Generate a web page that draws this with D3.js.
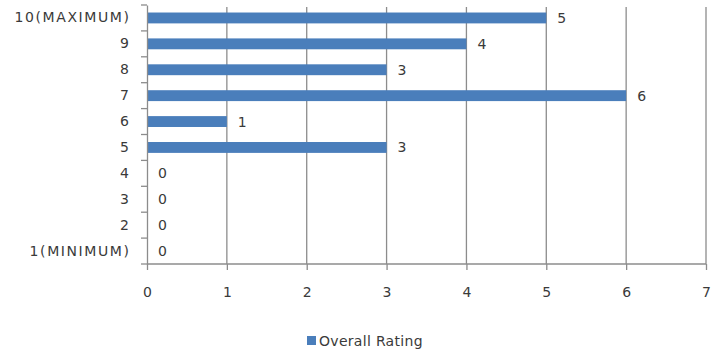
<!DOCTYPE html>
<html><head><meta charset="utf-8">
<script src="https://cdn.jsdelivr.net/npm/d3@7"></script>
<style>
body{margin:0;background:#fff;}
text{font-family:"DejaVu Sans",sans-serif;fill:#3a3a3a;}
</style></head>
<body><svg id="c" width="725" height="356"></svg>
<script>
const categories = ["10(MAXIMUM)","9","8","7","6","5","4","3","2","1(MINIMUM)"];
const values = [5,4,3,6,1,3,0,0,0,0];
const xTicks = [0,1,2,3,4,5,6,7];
const seriesName = "Overall Rating";

const svg = d3.select("#c");
const x = d3.scaleLinear().domain([0,7]).range([147,706]);
const y = d3.scaleBand().domain(categories).range([5,264]).paddingInner(0.58).paddingOuter(0.29);
const color = "#4A7EBB";
const grid = "#8c8c8c";

// gridlines
svg.append("g").selectAll("line").data(xTicks.slice(1)).join("line")
  .attr("x1",d=>x(d)).attr("x2",d=>x(d)).attr("y1",7).attr("y2",264)
  .attr("stroke",grid).attr("stroke-width",1.3);

// bars
svg.append("g").selectAll("rect").data(values).join("rect")
  .attr("x",x(0)).attr("y",(d,i)=>y(categories[i]))
  .attr("width",d=>x(d)-x(0)).attr("height",y.bandwidth())
  .attr("fill",color);

// value labels
svg.append("g").selectAll("text").data(values).join("text")
  .attr("x",d=>x(d)+11).attr("y",(d,i)=>y(categories[i])+y.bandwidth()/2)
  .attr("dy","0.36em").attr("font-size",14).text(d=>d);

// y axis
const yAxis = d3.axisLeft(y).tickSize(0).tickPadding(18);
const gy = svg.append("g").attr("transform","translate(147,0)").call(yAxis);
gy.select(".domain").attr("stroke",grid).attr("stroke-width",1.3);
gy.selectAll("text").attr("font-size",14).attr("font-family","DejaVu Sans").attr("fill","#3a3a3a")
  .attr("letter-spacing",1.6).attr("dx",1.6);
// band boundary ticks
const bounds = d3.range(categories.length+1).map(i=>5+i*(259/categories.length));
svg.append("g").selectAll("line").data(bounds).join("line")
  .attr("x1",141).attr("x2",147).attr("y1",d=>d).attr("y2",d=>d)
  .attr("stroke",grid).attr("stroke-width",1.3);

// x axis
const xAxis = d3.axisBottom(x).tickValues(xTicks).tickSize(6).tickPadding(17).tickFormat(d3.format("d"));
const gx = svg.append("g").attr("transform","translate(0,264)").call(xAxis);
gx.select(".domain").attr("stroke",grid).attr("stroke-width",1.3).attr("d","M147,0H706");
gx.selectAll(".tick line").attr("stroke",grid).attr("stroke-width",1.3);
gx.selectAll("text").attr("font-size",14).attr("font-family","DejaVu Sans").attr("fill","#3a3a3a");

// legend
const lg = svg.append("g").attr("transform","translate(307,336)");
lg.append("rect").attr("x",0).attr("y",0).attr("width",9).attr("height",9).attr("fill",color);
lg.append("text").attr("x",12).attr("y",5).attr("dy","0.36em").attr("font-size",14).attr("letter-spacing",0.3).text(seriesName);
</script></body></html>
